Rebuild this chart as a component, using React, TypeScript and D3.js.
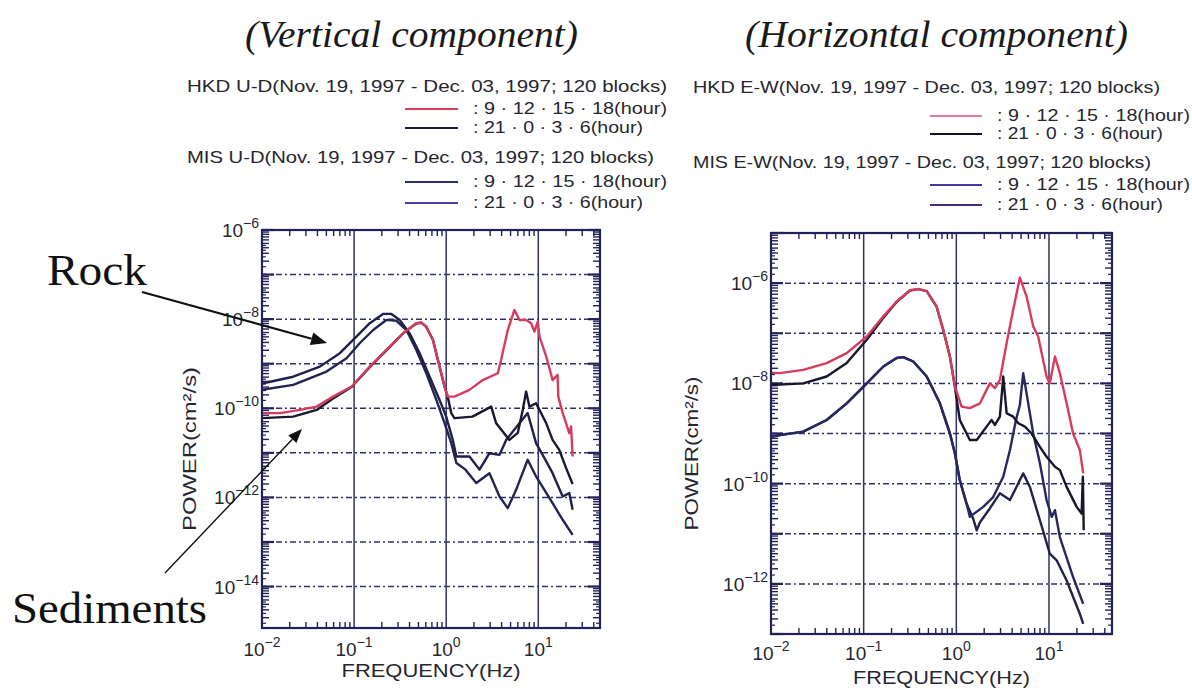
import React from "react";
import * as d3 from "d3";

type Pt = [number, number];

// ---------- text content ----------
const panelTitles = ["(Vertical component)", "(Horizontal component)"];
const vStationTitles = [
  "HKD U-D(Nov. 19, 1997 - Dec. 03, 1997; 120 blocks)",
  "MIS U-D(Nov. 19, 1997 - Dec. 03, 1997; 120 blocks)",
];
const hStationTitles = [
  "HKD E-W(Nov. 19, 1997 - Dec. 03, 1997; 120 blocks)",
  "MIS E-W(Nov. 19, 1997 - Dec. 03, 1997; 120 blocks)",
];
const hourLabels = [": 9 · 12 · 15 · 18(hour)", ": 21 · 0 · 3 · 6(hour)"];
const xTickExponents = [-2, -1, 0, 1];
const vYTickExponents = [-6, -8, -10, -12, -14];
const hYTickExponents = [-6, -8, -10, -12];
const xAxisTitle = "FREQUENCY(Hz)";
const yAxisTitle = "POWER(cm²/s)";
const annotations = ["Rock", "Sediments"];

// ---------- data: vertical component [frequency Hz, power cm^2/s] ----------
const vHkdDay: Pt[] = [
  [0.01, 7.8e-11], [0.0157, 7.8e-11], [0.0258, 9.2e-11], [0.0392, 1.09e-10], [0.0591, 1.83e-10],
  [0.0938, 3.07e-10], [0.148, 8.6e-10], [0.224, 2.04e-9], [0.34, 4.83e-9], [0.474, 8.1e-9],
  [0.537, 8.4e-9], [0.608, 6.8e-9], [0.718, 3.42e-9], [0.847, 8.6e-10], [0.962, 3.07e-10],
  [1.04, 1.83e-10], [1.23, 1.83e-10], [1.79, 2.59e-10], [2.5, 4.3e-10], [3.63, 6.1e-10],
  [3.95, 1.22e-9], [4.66, 5.7e-9], [5.51, 1.61e-8], [6.24, 9.6e-9], [7.38, 9.6e-9],
  [8.36, 8.1e-9], [9.08, 5.25e-9], [9.86, 8.8e-9], [10.3, 4.05e-9], [12.2, 1.44e-9],
  [14.3, 4.3e-10], [16.2, 5.6e-10], [16.5, 1.83e-10], [18.4, 7.8e-11], [21.7, 2.77e-11],
  [22.7, 3.9e-11], [23.6, 8.3e-12],
];
const vHkdNight: Pt[] = [
  [0.01, 6.0e-11], [0.0218, 6.5e-11], [0.0392, 9.2e-11], [0.0591, 1.65e-10], [0.0938, 3.0e-10],
  [0.148, 8.4e-10], [0.224, 2.0e-9], [0.34, 4.8e-9], [0.474, 8.0e-9], [0.537, 8.3e-9],
  [0.608, 6.7e-9], [0.718, 3.4e-9], [0.847, 8.6e-10], [0.962, 3.0e-10], [1.04, 1.8e-10],
  [1.135, 7.8e-11], [1.23, 6.0e-11], [1.93, 6.5e-11], [3.08, 1.09e-10], [3.49, 4.6e-11],
  [4.86, 1.95e-11], [5.98, 2.8e-11], [6.78, 9.2e-11], [7.38, 2.37e-10], [8.01, 1.09e-10],
  [9.46, 1.3e-10], [12.2, 4.6e-11], [14.3, 1.95e-11], [16.9, 1.17e-11], [20.0, 4.6e-12],
  [23.6, 2.0e-12],
];
const vMisDay: Pt[] = [
  [0.01, 3.6e-10], [0.0218, 5.1e-10], [0.0425, 8.6e-10], [0.07, 1.72e-9], [0.106, 4.05e-9],
  [0.148, 8.1e-9], [0.206, 1.31e-8], [0.254, 1.31e-8], [0.313, 9.6e-9], [0.401, 4.8e-9],
  [0.515, 1.72e-9], [0.661, 5.1e-10], [0.847, 1.54e-10], [1.0, 6.5e-11], [1.18, 1.95e-11],
  [1.29, 8.3e-12], [1.79, 8.3e-12], [2.3, 4.2e-12], [2.95, 9.8e-12], [3.79, 9.0e-12],
  [4.48, 1.95e-11], [6.24, 4.6e-11], [7.67, 7.8e-11], [9.46, 1.65e-11], [11.5, 8.0e-12],
  [14.3, 3.5e-12], [18.4, 1.05e-12], [21.7, 1.25e-12], [23.6, 5.3e-13],
];
const vMisNight: Pt[] = [
  [0.01, 2.6e-10], [0.0218, 3.35e-10], [0.0502, 6.65e-10], [0.0828, 1.33e-9], [0.115, 2.88e-9],
  [0.161, 5.7e-9], [0.224, 9.6e-9], [0.288, 9.2e-9], [0.37, 5.7e-9], [0.474, 2.04e-9],
  [0.608, 6.1e-10], [0.782, 1.54e-10], [0.962, 4.6e-11], [1.135, 1.65e-11], [1.29, 5.9e-12],
  [1.62, 4.2e-12], [2.12, 2.1e-12], [2.95, 3.5e-12], [3.79, 1.05e-12], [4.66, 5.75e-13],
  [5.74, 1.48e-12], [7.67, 7.0e-12], [9.46, 2.95e-12], [14.3, 7.4e-13], [18.4, 3.15e-13],
  [23.6, 1.45e-13],
];

// ---------- data: horizontal component ----------
const hHkdDay: Pt[] = [
  [0.01, 1.62e-8], [0.0125, 1.6e-8], [0.0223, 1.86e-8], [0.0399, 2.54e-8], [0.0656, 4.0e-8],
  [0.108, 8.6e-8], [0.163, 2.17e-7], [0.227, 4.3e-7], [0.315, 7.2e-7], [0.388, 7.65e-7],
  [0.479, 6.9e-7], [0.612, 3.44e-7], [0.723, 1.17e-7], [0.853, 3.44e-8], [0.966, 8.6e-9],
  [1.14, 3.44e-9], [1.4, 3.2e-9], [1.8, 4.0e-9], [2.3, 1.0e-8], [2.61, 8.0e-9],
  [2.95, 1.17e-8], [3.49, 6.4e-8], [4.11, 2.95e-7], [4.85, 1.29e-6], [5.73, 5.4e-7],
  [6.76, 1.37e-7], [7.64, 8.6e-8], [9.42, 1.37e-8], [10.2, 1.0e-8], [11.6, 3.44e-8],
  [13.1, 1.6e-8], [15.5, 4.0e-9], [18.2, 1.0e-9], [21.5, 4.7e-10], [23.4, 1.6e-10],
];
const hHkdNight: Pt[] = [
  [0.01, 9.3e-9], [0.0223, 1.0e-8], [0.0399, 1.37e-8], [0.0656, 2.54e-8], [0.108, 7.4e-8],
  [0.163, 2.04e-7], [0.227, 4.2e-7], [0.315, 7.1e-7], [0.388, 7.6e-7], [0.479, 6.9e-7],
  [0.612, 3.4e-7], [0.723, 1.15e-7], [0.853, 3.4e-8], [0.966, 8.4e-9], [1.09, 1.86e-9],
  [1.4, 7.4e-10], [1.66, 7.4e-10], [2.12, 1.37e-9], [2.4, 1.86e-9], [2.61, 1.48e-9],
  [2.95, 2.17e-9], [3.21, 1.37e-8], [3.49, 2.54e-9], [4.11, 2.17e-9], [4.66, 1.6e-9],
  [5.5, 1.37e-9], [6.49, 1.0e-9], [7.98, 5.4e-10], [9.42, 3.44e-10], [11.6, 2.17e-10],
  [13.1, 1.86e-10], [15.5, 8.6e-11], [19.9, 3.44e-11], [22.5, 2.54e-11], [23.2, 1.37e-10],
  [23.7, 1.17e-11],
];
const hMisDay: Pt[] = [
  [0.01, 8.6e-10], [0.0125, 9.3e-10], [0.0223, 1.09e-9], [0.0399, 1.86e-9], [0.0656, 4.0e-9],
  [0.108, 1.0e-8], [0.163, 2.17e-8], [0.227, 3.2e-8], [0.267, 3.34e-8], [0.343, 2.73e-8],
  [0.479, 1.37e-8], [0.665, 4.0e-9], [0.853, 1.0e-9], [0.966, 4.0e-10], [1.09, 1.17e-10],
  [1.29, 4.0e-11], [1.4, 2.17e-11], [1.95, 3.44e-11], [2.5, 5.4e-11], [3.21, 1.37e-10],
  [3.79, 4.7e-10], [4.4, 1.86e-9], [4.85, 3.7e-9], [5.27, 1.6e-8], [5.97, 4.0e-9],
  [6.76, 1.0e-9], [7.98, 2.54e-10], [9.42, 4.7e-11], [10.7, 2.17e-11], [11.6, 2.95e-11],
  [13.1, 8.6e-12], [18.2, 1.37e-12], [23.4, 4.0e-13],
];
const hMisNight: Pt[] = [
  [0.01, 8.6e-10], [0.0125, 9.3e-10], [0.0223, 1.09e-9], [0.0399, 1.86e-9], [0.0656, 4.0e-9],
  [0.108, 1.0e-8], [0.163, 2.17e-8], [0.227, 3.2e-8], [0.267, 3.34e-8], [0.343, 2.73e-8],
  [0.479, 1.37e-8], [0.665, 4.0e-9], [0.853, 1.0e-9], [0.966, 4.0e-10], [1.09, 1.17e-10],
  [1.29, 4.0e-11], [1.52, 2.0e-11], [1.66, 1.17e-11], [1.8, 1.7e-11], [2.3, 3.2e-11],
  [2.95, 6.4e-11], [3.79, 4.7e-11], [5.27, 1.6e-10], [6.22, 8.6e-11], [7.98, 1.86e-11],
  [10.2, 4.0e-12], [12.1, 2.95e-12], [15.5, 1.17e-12], [21.5, 2.54e-13], [23.4, 1.6e-13],
];

// ---------- styling ----------
const SERIF = "'Liberation Serif', 'Times New Roman', serif";
const SANS = "'Liberation Sans', Arial, Helvetica, sans-serif";
const TEXT = "#262630";
const FRAME = "#22225a";
const GRID = "#30306a";

interface Series { data: Pt[]; color: string }
interface PanelCfg {
  left: number; right: number; top: number; bottom: number;
  xDomain: [number, number]; yDomain: [number, number];
  yTickExps: number[];
  series: Series[];
  xLabelY: number; xTitleY: number; xTitleLen: number;
  yLabelX: number; yTitleX: number; yTitleLen: number;
}

function Pow({ x, y, exp, anchor }: { x: number; y: number; exp: number; anchor: "end" | "middle" }) {
  const e = exp < 0 ? "\u2212" + Math.abs(exp) : String(exp);
  return (
    <text x={x} y={y} textAnchor={anchor} fontFamily={SANS} fontSize={19} fill={TEXT}>
      <tspan>10</tspan>
      <tspan dy={-9} fontSize={14}>{e}</tspan>
    </text>
  );
}

function Panel({ c }: { c: PanelCfg }) {
  const x = d3.scaleLog().domain(c.xDomain).range([c.left, c.right]);
  const y = d3.scaleLog().domain(c.yDomain).range([c.bottom, c.top]);
  const line = d3.line<Pt>().x((d) => x(d[0])).y((d) => y(d[1]));

  const decades = (dom: [number, number], steps: number[]) => {
    const major: number[] = [];
    const minor: number[] = [];
    const lo = Math.floor(Math.log10(dom[0]));
    const hi = Math.ceil(Math.log10(dom[1]));
    for (let e = lo; e <= hi; e++) {
      for (const k of steps) {
        const v = k * Math.pow(10, e);
        if (v < dom[0] * 0.999 || v > dom[1] * 1.001) continue;
        (k === 1 ? major : minor).push(v);
      }
    }
    return { major, minor };
  };
  const xt = decades(c.xDomain, [1, 2, 3, 4, 5, 6, 7, 8, 9]);
  const yt = decades(c.yDomain, [1, 2, 3, 4, 5, 6, 7, 8, 9]);
  const ySub = decades(c.yDomain, [1.5, 2.5, 3.5, 4.5]).minor;
  const inside = (v: number, dom: [number, number]) => v > dom[0] * 1.02 && v < dom[1] / 1.02;

  const cx = (c.left + c.right) / 2;
  const cy = (c.top + c.bottom) / 2 + 20;

  return (
    <g>
      {xt.major.filter((v) => inside(v, c.xDomain)).map((v, i) => (
        <line key={"vg" + i} x1={x(v)} x2={x(v)} y1={c.top} y2={c.bottom} stroke={GRID} strokeWidth={1.5} />
      ))}
      {yt.major.filter((v) => inside(v, c.yDomain)).map((v, i) => (
        <line key={"hg" + i} x1={c.left} x2={c.right} y1={y(v)} y2={y(v)} stroke={GRID}
          strokeWidth={1.5} strokeDasharray="6 3 2 3" />
      ))}
      {xt.minor.map((v, i) => (
        <g key={"xm" + i}>
          <line x1={x(v)} x2={x(v)} y1={c.top} y2={c.top + 6} stroke={FRAME} strokeWidth={1.4} />
          <line x1={x(v)} x2={x(v)} y1={c.bottom} y2={c.bottom - 6} stroke={FRAME} strokeWidth={1.4} />
        </g>
      ))}
      {yt.minor.map((v, i) => (
        <g key={"ym" + i}>
          <line x1={c.left} x2={c.left + 7} y1={y(v)} y2={y(v)} stroke={FRAME} strokeWidth={1.4} />
          <line x1={c.right} x2={c.right - 7} y1={y(v)} y2={y(v)} stroke={FRAME} strokeWidth={1.4} />
        </g>
      ))}
      {ySub.map((v, i) => (
        <g key={"ys" + i}>
          <line x1={c.left} x2={c.left + 4} y1={y(v)} y2={y(v)} stroke={FRAME} strokeWidth={1.2} />
          <line x1={c.right} x2={c.right - 4} y1={y(v)} y2={y(v)} stroke={FRAME} strokeWidth={1.2} />
        </g>
      ))}
      {yt.major.map((v, i) => (
        <g key={"yM" + i}>
          <line x1={c.left} x2={c.left + 12} y1={y(v)} y2={y(v)} stroke={FRAME} strokeWidth={2.2} />
          <line x1={c.right} x2={c.right - 12} y1={y(v)} y2={y(v)} stroke={FRAME} strokeWidth={2.2} />
        </g>
      ))}
      {c.series.map((s, i) => (
        <path key={"s" + i} d={line(s.data) || ""} fill="none" stroke={s.color} strokeWidth={2.4}
          strokeLinejoin="round" />
      ))}
      <rect x={c.left} y={c.top} width={c.right - c.left} height={c.bottom - c.top} fill="none"
        stroke={FRAME} strokeWidth={2.2} />
      {xTickExponents.map((e) => (
        <Pow key={"xl" + e} x={x(Math.pow(10, e))} y={c.xLabelY} exp={e} anchor="middle" />
      ))}
      {c.yTickExps.map((e) => (
        <Pow key={"yl" + e} x={c.yLabelX} y={y(Math.pow(10, e)) + 7} exp={e} anchor="end" />
      ))}
      <text x={cx} y={c.xTitleY} textAnchor="middle" fontFamily={SANS} fontSize={19} fill={TEXT}
        textLength={c.xTitleLen} lengthAdjust="spacingAndGlyphs">{xAxisTitle}</text>
      <text x={c.yTitleX} y={cy} textAnchor="middle" fontFamily={SANS} fontSize={19} fill={TEXT}
        transform={`rotate(-90, ${c.yTitleX}, ${cy})`} textLength={c.yTitleLen}
        lengthAdjust="spacingAndGlyphs">{yAxisTitle}</text>
    </g>
  );
}

interface LegendCfg {
  titles: string[]; titleX: number; titleY: number[]; titleLen: number[];
  lineX: [number, number]; rowY: number[]; colors: string[]; textX: number; rowLen: number[];
}

function Legend({ l }: { l: LegendCfg }) {
  return (
    <g fontFamily={SANS} fontSize={17} fill={TEXT}>
      {l.titles.map((t, i) => (
        <text key={"t" + i} x={l.titleX} y={l.titleY[i]} textLength={l.titleLen[i]}
          lengthAdjust="spacingAndGlyphs">{t}</text>
      ))}
      {l.rowY.map((ry, i) => (
        <g key={"r" + i}>
          <line x1={l.lineX[0]} x2={l.lineX[1]} y1={ry} y2={ry} stroke={l.colors[i]} strokeWidth={2} />
          <text x={l.textX} y={ry + 5} textLength={l.rowLen[i % 2]} lengthAdjust="spacingAndGlyphs">
            {hourLabels[i % 2]}
          </text>
        </g>
      ))}
    </g>
  );
}

function Arrow({ x1, y1, x2, y2, w, head }: { x1: number; y1: number; x2: number; y2: number; w: number; head: number }) {
  const ang = Math.atan2(y2 - y1, x2 - x1);
  const bx = x2 - head * Math.cos(ang);
  const by = y2 - head * Math.sin(ang);
  const hw = head * 0.4;
  const px = -Math.sin(ang) * hw;
  const py = Math.cos(ang) * hw;
  return (
    <g>
      <line x1={x1} y1={y1} x2={bx} y2={by} stroke="#111" strokeWidth={w} />
      <polygon points={`${x2},${y2} ${bx + px},${by + py} ${bx - px},${by - py}`} fill="#111" />
    </g>
  );
}

export default function App() {
  const vPanel: PanelCfg = {
    left: 262, right: 600, top: 230, bottom: 628,
    xDomain: [0.01, Math.pow(10, 1.67)], yDomain: [Math.pow(10, -14.93), 1e-6],
    yTickExps: vYTickExponents,
    series: [
      { data: vMisDay, color: "#20204a" },
      { data: vMisNight, color: "#242452" },
      { data: vHkdNight, color: "#18182e" },
      { data: vHkdDay, color: "#d63c5e" },
    ],
    xLabelY: 656, xTitleY: 677, xTitleLen: 179,
    yLabelX: 259, yTitleX: 196, yTitleLen: 164,
  };
  const hPanel: PanelCfg = {
    left: 771, right: 1112, top: 233, bottom: 634,
    xDomain: [0.01, Math.pow(10, 1.68)], yDomain: [1e-13, 1e-5],
    yTickExps: hYTickExponents,
    series: [
      { data: hMisNight, color: "#22224a" },
      { data: hMisDay, color: "#282860" },
      { data: hHkdNight, color: "#16162c" },
      { data: hHkdDay, color: "#d63c5e" },
    ],
    xLabelY: 660, xTitleY: 684, xTitleLen: 177,
    yLabelX: 768, yTitleX: 698, yTitleLen: 154,
  };
  const vLegend: LegendCfg = {
    titles: vStationTitles, titleX: 187, titleY: [92, 163], titleLen: [480, 467],
    lineX: [405, 458], rowY: [109, 128, 182, 203],
    colors: ["#d8405a", "#1f1f3d", "#2b2b70", "#4b3aa8"], textX: 473, rowLen: [194, 170],
  };
  const hLegend: LegendCfg = {
    titles: hStationTitles, titleX: 693, titleY: [93, 168], titleLen: [467, 458],
    lineX: [930, 982], rowY: [116, 134, 185, 205],
    colors: ["#e27aa8", "#141428", "#3a3aa0", "#4a2a80"], textX: 997, rowLen: [193, 166],
  };

  return (
    <div style={{ position: "absolute", left: 0, top: 0 }}>
      <svg width={1192} height={689} viewBox="0 0 1192 689" style={{ display: "block", background: "#fff" }}>
        <rect x={0} y={0} width={1192} height={689} fill="#fff" />
        <text x={245} y={47} fontFamily={SERIF} fontStyle="italic" fontSize={38} fill="#1a1a1a"
          textLength={333} lengthAdjust="spacingAndGlyphs">{panelTitles[0]}</text>
        <text x={745} y={47} fontFamily={SERIF} fontStyle="italic" fontSize={38} fill="#1a1a1a"
          textLength={383} lengthAdjust="spacingAndGlyphs">{panelTitles[1]}</text>
        <Legend l={vLegend} />
        <Legend l={hLegend} />
        <Panel c={vPanel} />
        <Panel c={hPanel} />
        <text x={47} y={285} fontFamily={SERIF} fontSize={44} fill="#111" textLength={100}
          lengthAdjust="spacingAndGlyphs">{annotations[0]}</text>
        <text x={12} y={623} fontFamily={SERIF} fontSize={44} fill="#111" textLength={195}
          lengthAdjust="spacingAndGlyphs">{annotations[1]}</text>
        <Arrow x1={142} y1={292} x2={327} y2={343} w={2.2} head={16} />
        <Arrow x1={165} y1={573} x2={302} y2={429} w={1.4} head={14} />
      </svg>
    </div>
  );
}
